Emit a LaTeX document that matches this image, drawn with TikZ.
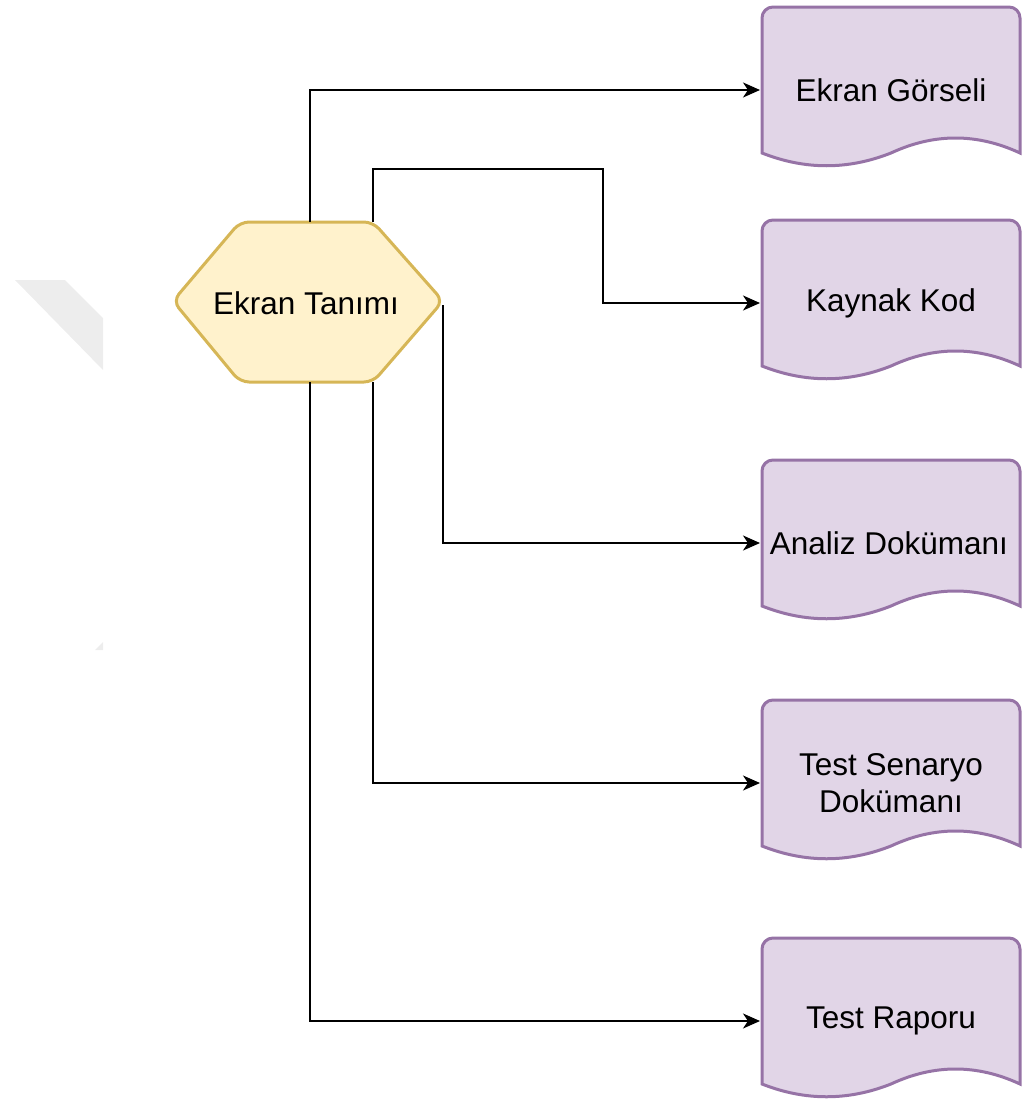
\documentclass[tikz,border=0pt]{standalone}
\usepackage{fontspec}
\setmainfont{Liberation Sans}
\usetikzlibrary{arrows.meta}
\definecolor{hexfill}{HTML}{FFF2CC}
\definecolor{hexline}{HTML}{D6B656}
\definecolor{docfill}{HTML}{E1D5E7}
\definecolor{docline}{HTML}{9673A6}
\definecolor{wmgray}{HTML}{EDEDED}
\tikzset{
  lbl/.style={font=\fontsize{31.5}{37}\selectfont, align=center, inner sep=0pt},
  docshape/.style={fill=docfill, draw=docline, line width=3pt, rounded corners=11pt},
  hexshape/.style={fill=hexfill, draw=hexline, line width=3pt, rounded corners=9pt},
  conn/.style={draw=black, line width=2.2pt, -{Stealth[length=17pt,width=15pt,inset=5pt]}},
}
\newcommand{\docpath}{%
  (-129,63) -- (-129,-83) -- (129,-83) [sharp corners] -- (129,63)
  .. controls (86,43) and (43,43) .. (0,63)
  .. controls (-43,80) and (-86,80) .. (-129,63) -- cycle}
\begin{document}
\begin{tikzpicture}[x=1pt,y=-1pt]
\useasboundingbox (0,0) rectangle (1022,1100);
% faint background marks
\fill[wmgray] (15,280) -- (65,280) -- (103,318) -- (103,370) -- cycle;
\fill[wmgray] (95,650) -- (103,642) -- (103,650) -- cycle;

% hexagon
\draw[hexshape] (173,301) -- (240,222) -- (373,222) -- (443,301) -- (373,382) -- (240,382) -- cycle;
\node[lbl] (hex) at (306,303) {Ekran Tanımı};
\coordinate (hT1) at (310,222);
\coordinate (hT2) at (373,222);
\coordinate (hR) at (443,305);
\coordinate (hB2) at (373,382);
\coordinate (hB1) at (310,382);

% documents
\coordinate (c1) at (891,90);
\coordinate (c2) at (891,303);
\coordinate (c3) at (891,543);
\coordinate (c4) at (891,783);
\coordinate (c5) at (891,1021);
\foreach \c in {c1,c2,c3,c4,c5}{
  \begin{scope}[shift={(\c)}]
    \draw[docshape] \docpath;
  \end{scope}
}
\node[lbl] (d1) at (c1) {Ekran Görseli};
\node[lbl] (d2) at (c2) {Kaynak Kod};
\node[lbl] (d3) at ([xshift=-2pt]c3) {Analiz Dokümanı};
\node[lbl, font=\fontsize{31.5}{37}\selectfont] (d4) at (c4) {Test Senaryo\\Dokümanı};
\node[lbl] (d5) at (c5) {Test Raporu};

\coordinate (e1) at (760,90);
\coordinate (e2) at (760,303);
\coordinate (e3) at (760,543);
\coordinate (e4) at (760,783);
\coordinate (e5) at (760,1021);

% connectors
\draw[conn] (hT1) |- (e1);
\draw[conn] (hT2) -- (373,169) -- (603,169) |- (e2);
\draw[conn] (hR) |- (e3);
\draw[conn] (hB2) |- (e4);
\draw[conn] (hB1) |- (e5);
\end{tikzpicture}
\end{document}
